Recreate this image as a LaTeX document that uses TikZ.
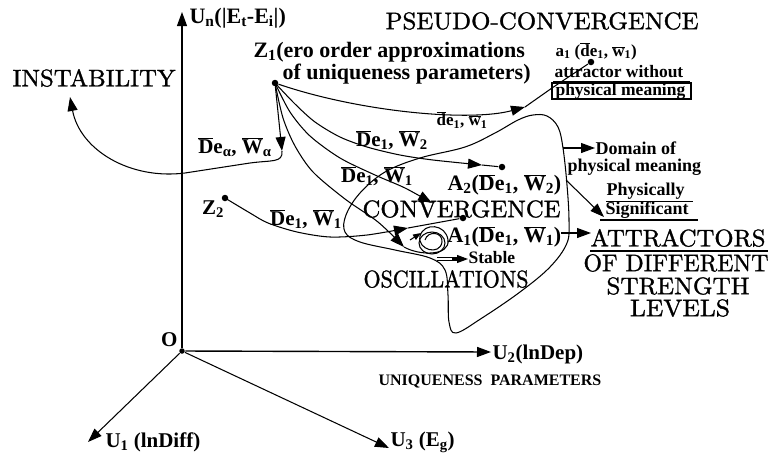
\documentclass[tikz,border=0pt]{standalone}
\usepackage{graphicx}
\usepackage{fontspec}
\newfontfamily\tnr{Liberation Serif}
\newfontfamily\bigf{lmroman10-regular.otf}[FakeBold=1.2]
\usetikzlibrary{arrows.meta}
\newcommand{\oD}{$\overline{\hbox{D}}$}
\newcommand{\oW}{$\overline{\hbox{W}}$}
\newcommand{\od}{$\overline{\hbox{d}}$}
\newcommand{\ow}{$\overline{\hbox{w}}$}
\newcommand{\sub}[1]{\textsubscript{#1}}
\newcommand{\fitw}[2]{\resizebox{#1pt}{\height}{#2}}
\tikzset{
  big/.style={font=\fontsize{24}{26}\selectfont\bigf, inner sep=0pt},
  lab/.style={font=\fontsize{21}{23}\selectfont\tnr\bfseries, inner sep=0pt},
  labb/.style={font=\fontsize{22}{24}\selectfont\tnr\bfseries, inner sep=0pt},
  labs/.style={font=\fontsize{17.5}{19}\selectfont\tnr\bfseries, inner sep=0pt},
  labm/.style={font=\fontsize{18}{20}\selectfont\tnr\bfseries, inner sep=0pt},
  dotn/.style={circle, fill, inner sep=0pt, minimum size=6.5pt},
  arr/.style={-{Triangle[length=14pt,width=10pt]}}
}
\begin{document}
\begin{tikzpicture}[x=1pt,y=-1pt, line width=1.05pt]
\useasboundingbox (0,0) rectangle (772,456);
% axes
\node[dotn, minimum size=5.5pt] (O) at (182,351) {};
\node[lab, anchor=south east] (Ol) at (178,347) {O};
\coordinate (unT) at (182,12);
\coordinate (u2T) at (491,352);
\coordinate (u1T) at (88,442);
\coordinate (u3T) at (389,448);
\draw[arr] (O) -- (unT);
\draw[arr, line width=1.4pt] (O) -- (u2T);
\draw[arr] (O) -- (u1T);
\draw[arr] (O) -- (u3T);
\node[font=\fontsize{22}{24}\selectfont\tnr\bfseries, inner sep=0pt, anchor=west] (unl) at (189,18) {U\sub{n}(|E\sub{t}-E\sub{i}|)};
\node[lab, anchor=west] (u2l) at (492,354) {U\sub{2}(lnDep)};
\node[lab, anchor=west] (u1l) at (105,442) {U\sub{1} (lnDiff)};
\node[lab, anchor=west] (u3l) at (390,442) {U\sub{3} (E\sub{g})};
\node[font=\fontsize{16}{18}\selectfont\tnr\bfseries, inner sep=0pt, anchor=west] (uniq) at (378,381) {UNIQUENESS\ \ PARAMETERS};
% big texts
\node[big, anchor=west] (pc) at (385,21) {\fitw{313}{PSEUDO-CONVERGENCE}};
\node[big, anchor=west] (inst) at (12,78) {\fitw{163}{INSTABILITY}};
\node[big, anchor=west] (conv) at (362,209) {\fitw{198}{CONVERGENCE}};
\node[big, anchor=west] (osc) at (363,279) {\fitw{165}{OSCILLATIONS}};
\node[big] (at1) at (678,238) {\fitw{175}{ATTRACTORS}};
\node[big] (at2) at (676,263) {\fitw{185}{OF DIFFERENT}};
\node[big] (at3) at (678,286) {\fitw{143}{STRENGTH}};
\node[big] (at4) at (680,308) {\fitw{100}{LEVELS}};
\draw[line width=2pt] (590,251) -- (768,251);
% Z1
\node[dotn] (Z1) at (275,83) {};
\node[labb, anchor=west] (z1a) at (253,52) {Z\sub{1}(ero order approximations};
\node[labb, anchor=west] (z1b) at (282,74) {of uniqueness parameters)};
% a1
\node[dotn] (a1) at (591,62) {};
\node[font=\fontsize{17}{19}\selectfont\tnr\bfseries, inner sep=0pt, anchor=west] (a1l) at (555,51) {a\sub{1} (\od e\sub{1}, \ow\sub{1})};
\node[labs, anchor=west] (atw) at (554,72) {attractor without};
\node[labs, anchor=west] (pm1) at (555,91) {physical meaning};
\draw[line width=1.3pt] (552,83) rectangle (691,99);
\draw[line width=0.9pt] (553,81) -- (690,81);
% Z1 -> a1
\coordinate (a1arr) at (525,107);
\draw[arr] (Z1) .. controls (360,112) and (470,122) .. (a1arr);
\draw (a1arr) -- (552,88) -- (a1);
\node[font=\fontsize{17}{19}\selectfont\tnr\bfseries, inner sep=0pt] (lde) at (462,120) {\od e\sub{1}, \ow\sub{1}};
% Z1 -> A2
\node[dotn] (A2) at (502,167) {};
\coordinate (A2arr) at (482,165);
\draw[arr] plot[smooth] coordinates {(Z1) (295,104) (315,122) (340,137) (367,147) (400,155) (433,160) (A2arr)};
\draw (A2arr) -- (A2);
\node[lab] (lw2) at (392,140) {\oD e\sub{1}, \oW\sub{2}};
\node[labb, anchor=west] (A2l) at (447,185) {A\sub{2}(\oD e\sub{1}, \oW\sub{2})};
% Z1 -> convergence
\coordinate (cvarr) at (432,203);
\draw[arr] plot[smooth] coordinates {(Z1) (290,112) (310,136) (340,158) (375,175) (405,188) (cvarr)};
\node[lab] (lw1a) at (377,176) {\oD e\sub{1}, \oW\sub{1}};
% Z1 -> stable
\coordinate (starr) at (404,247);
\draw[arr] plot[smooth] coordinates {(Z1) (283,118) (295,146) (313,172) (345,199) (378,222) (starr)};
% Z1 -> instability
\coordinate (dal) at (282,151);
\coordinate (insT) at (70,97);
\draw[arr] (Z1) -- (dal);
\draw[arr] (dal) .. controls (283,163) and (272,160) .. (250,163) -- (185,173) .. controls (130,180) and (80,150) .. (insT);
\node[lab] (lal) at (235,147) {\oD e\sub{α}, \oW\sub{α}};
% Z2
\node[dotn] (Z2) at (225,198) {};
\node[lab] (z2l) at (213,209) {Z\sub{2}};
\node[dotn] (A1) at (463,218) {};
\coordinate (z2arr) at (408,228);
\draw[arr] plot[smooth] coordinates {(Z2) (250,213) (268,223) (297,232) (330,237) (367,235) (z2arr)};
\draw (z2arr) -- (A1);
\node[lab] (lw1b) at (306,219) {\oD e\sub{1}, \oW\sub{1}};
\node[labb, anchor=west] (A1l) at (447,237) {A\sub{1}(\oD e\sub{1}, \oW\sub{1})};
% domain blob
\draw plot[smooth cycle, tension=0.6] coordinates {(547,116) (558,127) (563,148) (567,185) (569,220) (567,243) (550,267) (520,292) (482,318) (456,333) (449,322) (448,295) (445,270) (430,258) (395,250) (360,242) (345,232) (346,215) (360,193) (385,172) (420,158) (465,147) (495,133) (518,120) (533,115)};
\coordinate (domS) at (563,148);
\coordinate (domT) at (595,148);
\draw[arr] (domS) -- (domT);
\node[labm, anchor=west] (dom1) at (595,148) {Domain of};
\node[labm, anchor=west] (dom2) at (567,167) {physical meaning};
% physically significant
\node[labm, anchor=west] (phy) at (606,191) {Physically};
\node[labm, anchor=west] (sig) at (605,210) {Significant};
\draw[line width=0.9pt] (606,201) -- (693,201);
\draw[line width=2pt] (600,220) -- (698,220);
\coordinate (psS) at (566,180);
\coordinate (psT) at (604,217);
\draw[arr] (psS) -- (psT);
% A1 -> attractors
\coordinate (atS) at (561,233);
\coordinate (atT) at (591,233);
\draw[arr] (atS) -- (atT);
% stable oscillations loops
\draw (starr) .. controls (420,256) and (450,256) .. (448,240) .. controls (446,224) and (424,222) .. (420,236) .. controls (417,250) and (440,256) .. (442,242) .. controls (443,232) and (428,230) .. (425,240);
\draw (432,243) ellipse [x radius=13, y radius=11];
\coordinate (smA) at (410,240);
\coordinate (smB) at (421,233);
\draw[-{Triangle[length=8pt,width=6pt]}] (smA) -- (smB);
\coordinate (stS) at (437,259);
\coordinate (stM) at (457,259);
\coordinate (stT) at (468,259);
\draw[double, double distance=2.2pt, line width=0.7pt] (stS) -- (stM);
\draw[-{Triangle[length=11pt,width=8pt]}] (452,259) -- (stT);
\node[font=\fontsize{17.5}{19}\selectfont\tnr\bfseries, inner sep=0pt, anchor=west] (stab) at (468,258) {Stable};
\end{tikzpicture}
\end{document}
